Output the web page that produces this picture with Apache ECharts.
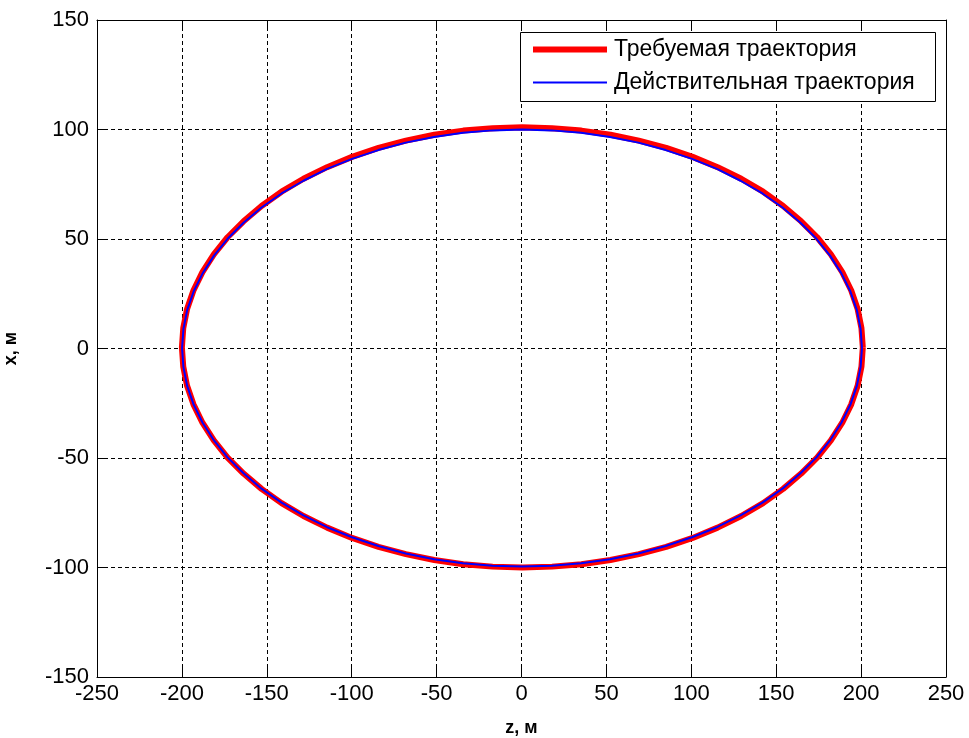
<!DOCTYPE html>
<html>
<head>
<meta charset="utf-8">
<script src="https://cdn.jsdelivr.net/npm/echarts@6/dist/echarts.min.js"></script>
<style>
  html, body { margin: 0; padding: 0; background: #fff; }
  #chart { width: 969px; height: 738px; }
</style>
</head>
<body>
<div id="chart"></div>
<script>
// Required trajectory (z, x), metres, counter-clockwise from the right-hand end
const requiredZ = [
  201, 200.2, 198, 194.2, 188.9, 182.2, 174.1, 164.7, 154.1, 142.3, 129.4, 115.5, 100.8, 85.2, 69.1, 52.4, 35.3, 18, 0.5,
  -17, -34.3, -51.4, -68.1, -84.2, -99.8, -114.5, -128.4, -141.3, -153.1, -163.7, -173.1, -181.2, -187.9, -193.2, -197, -199.2, -200,
  -199.2, -197, -193.2, -187.9, -181.2, -173.1, -163.7, -153.1, -141.3, -128.4, -114.5, -99.8, -84.2, -68.1, -51.4, -34.3, -17, 0.5,
  18, 35.3, 52.4, 69.1, 85.2, 100.8, 115.5, 129.4, 142.3, 154.1, 164.7, 174.1, 182.2, 188.9, 194.2, 198, 200.2, 201];
const requiredX = [
  0.5, 9.3, 17.9, 26.5, 34.9, 43, 50.8, 58.1, 65.1, 71.6, 77.5, 82.8, 87.5, 91.6, 94.9, 97.6, 99.5, 100.6, 101,
  100.6, 99.5, 97.6, 94.9, 91.6, 87.5, 82.8, 77.5, 71.6, 65.1, 58.1, 50.8, 43, 34.9, 26.5, 17.9, 9.3, 0.5,
  -8.3, -16.9, -25.5, -33.9, -42, -49.8, -57.1, -64.1, -70.6, -76.5, -81.8, -86.5, -90.6, -93.9, -96.6, -98.5, -99.6, -100,
  -99.6, -98.5, -96.6, -93.9, -90.6, -86.5, -81.8, -76.5, -70.6, -64.1, -57.1, -49.8, -42, -33.9, -25.5, -16.9, -8.3, 0.5];

// Actual trajectory (z, x), metres
const actualZ = [
  200.5, 199.7, 197.5, 193.7, 188.4, 181.7, 173.7, 164.3, 153.7, 141.9, 129, 115.1, 100.4, 84.9, 68.8, 52.1, 35.1, 17.8, 0.3,
  -17.2, -34.5, -51.5, -68.2, -84.3, -99.8, -114.5, -128.4, -141.3, -153.1, -163.7, -173.1, -181.1, -187.8, -193.1, -196.9, -199.1, -199.9,
  -199.1, -196.9, -193.1, -187.8, -181.1, -173.1, -163.7, -153.1, -141.3, -128.4, -114.5, -99.8, -84.3, -68.2, -51.5, -34.5, -17.2, 0.3,
  17.8, 35.1, 52.1, 68.8, 84.9, 100.4, 115.1, 129, 141.9, 153.7, 164.3, 173.7, 181.7, 188.4, 193.7, 197.5, 199.7, 200.5];
const actualX = [
  0.2, 8.9, 17.5, 26, 34.3, 42.4, 50.1, 57.4, 64.4, 70.8, 76.6, 82, 86.6, 90.6, 94, 96.6, 98.5, 99.6, 100,
  99.6, 98.5, 96.6, 94, 90.6, 86.6, 82, 76.6, 70.8, 64.4, 57.4, 50.1, 42.4, 34.3, 26, 17.5, 8.9, 0.2,
  -8.5, -17.1, -25.6, -33.9, -42, -49.7, -57, -64, -70.4, -76.2, -81.6, -86.2, -90.2, -93.6, -96.2, -98.1, -99.2, -99.6,
  -99.2, -98.1, -96.2, -93.6, -90.2, -86.2, -81.6, -76.2, -70.4, -64, -57, -49.7, -42, -33.9, -25.6, -17.1, -8.5, 0.2];

const zTicks = [-250, 250, 50];
const xTicks = [-150, 150, 50];
const seriesNames = ['Требуемая траектория', 'Действительная траектория'];

const pairs = (zs, xs) => zs.map((z, i) => [z, xs[i]]);

const font = 'Arial, "Liberation Sans", sans-serif';
const dashed = { show: true, lineStyle: { color: '#000', width: 1, type: [4, 3] } };

const chart = echarts.init(document.getElementById('chart'), null, { renderer: 'canvas' });

const baseX = {
  type: 'value', min: zTicks[0], max: zTicks[1], interval: zTicks[2],
  axisLine: { show: true, onZero: false, lineStyle: { color: '#000', width: 1 } },
  axisTick: { show: true, inside: true, length: 9, lineStyle: { color: '#000' } }
};
const baseY = {
  type: 'value', min: xTicks[0], max: xTicks[1], interval: xTicks[2],
  axisLine: { show: true, onZero: false, lineStyle: { color: '#000', width: 1 } },
  axisTick: { show: true, inside: true, length: 9, lineStyle: { color: '#000' } }
};

chart.setOption({
  animation: false,
  backgroundColor: '#fff',
  grid: { left: 97, right: 23, top: 20, bottom: 61, containLabel: false, outerBoundsMode: 'none' },
  xAxis: [
    Object.assign({}, baseX, {
      position: 'bottom',
      name: 'z, м', nameLocation: 'middle', nameGap: 42,
      nameTextStyle: { fontFamily: font, fontSize: 18, fontWeight: 'bold', color: '#000' },
      axisLabel: { fontFamily: font, fontSize: 22, color: '#000', margin: 6 },
      splitLine: dashed
    }),
    Object.assign({}, baseX, {
      position: 'top',
      axisLabel: { show: false },
      splitLine: { show: false }
    })
  ],
  yAxis: [
    Object.assign({}, baseY, {
      position: 'left',
      name: 'x, м', nameLocation: 'middle', nameGap: 77, nameRotate: 90,
      nameTextStyle: { fontFamily: font, fontSize: 18, fontWeight: 'bold', color: '#000' },
      axisLabel: { fontFamily: font, fontSize: 22, color: '#000', margin: 8 },
      splitLine: dashed
    }),
    Object.assign({}, baseY, {
      position: 'right',
      axisLabel: { show: false },
      splitLine: { show: false }
    })
  ],
  legend: [
    {
      data: [{ name: seriesNames[0], icon: 'rect' }],
      left: 528, top: 33, orient: 'vertical',
      itemWidth: 74, itemHeight: 6, itemGap: 8, z: 10,
      textStyle: { fontFamily: font, fontSize: 23, color: '#000', padding: [0, 0, 0, 2] },
      selectedMode: false
    },
    {
      data: [{ name: seriesNames[1], icon: 'rect' }],
      left: 528, top: 66, orient: 'vertical',
      itemWidth: 74, itemHeight: 2, itemGap: 8, z: 10,
      textStyle: { fontFamily: font, fontSize: 23, color: '#000', padding: [0, 0, 0, 2] },
      selectedMode: false
    }
  ],
  graphic: [{
    type: 'rect', left: 520, top: 32, z: 3,
    shape: { width: 415, height: 69 },
    style: { fill: '#fff', stroke: '#000', lineWidth: 1 }
  }],
  series: [
    {
      name: seriesNames[0], type: 'line', xAxisIndex: 0, yAxisIndex: 0,
      data: pairs(requiredZ, requiredX),
      symbol: 'none', smooth: false,
      lineStyle: { color: '#ff0000', width: 6, join: 'round' },
      itemStyle: { color: '#ff0000' },
      z: 4
    },
    {
      name: seriesNames[1], type: 'line', xAxisIndex: 0, yAxisIndex: 0,
      data: pairs(actualZ, actualX),
      symbol: 'none', smooth: false,
      lineStyle: { color: '#0000ff', width: 2, join: 'round' },
      itemStyle: { color: '#0000ff' },
      z: 5
    }
  ]
});
</script>
</body>
</html>
